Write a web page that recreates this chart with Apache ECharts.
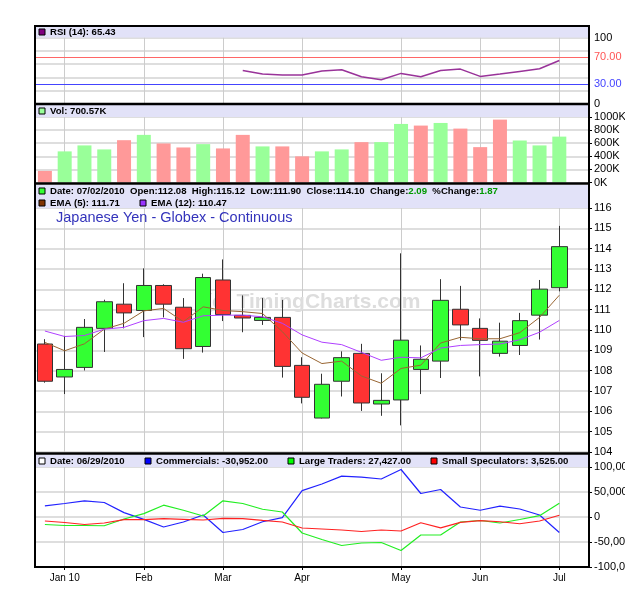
<!DOCTYPE html>
<html>
<head>
<meta charset="utf-8">
<script src="https://cdn.jsdelivr.net/npm/echarts@6/dist/echarts.min.js"></script>
<style>
html, body { margin: 0; padding: 0; background: #fff; }
#chart { width: 625px; height: 598px; }
</style>
</head>
<body>
<div id="chart"></div>
<script>
// weekly bars (friday dates)
let weeks = ['01/01/2010', '01/08/2010', '01/15/2010', '01/22/2010', '01/29/2010', '02/05/2010', '02/12/2010',
    '02/19/2010', '02/26/2010', '03/05/2010', '03/12/2010', '03/19/2010', '03/26/2010', '04/02/2010', '04/09/2010',
    '04/16/2010', '04/23/2010', '04/30/2010', '05/07/2010', '05/14/2010', '05/21/2010', '05/28/2010', '06/04/2010',
    '06/11/2010', '06/18/2010', '06/25/2010', '07/02/2010']
let tickIdx = [1, 5, 9, 13, 18, 22, 26]
let tickLabels = ['Jan 10', 'Feb', 'Mar', 'Apr', 'May', 'Jun', 'Jul']

let opens  = [109.31, 107.69, 108.16, 110.08, 111.27, 110.96, 112.19, 111.12, 109.19, 112.46, 110.72, 110.47, 110.62, 108.26,
    105.67, 107.48, 108.85, 106.36, 106.56, 108.06, 108.47, 111.02, 110.08, 108.85, 109.24, 110.73, 112.08]
let closes = [107.48, 108.06, 110.13, 111.39, 110.84, 112.19, 111.27, 109.08, 112.58, 110.76, 110.59, 110.62, 108.21, 106.69,
    107.33, 108.64, 106.41, 106.54, 109.50, 108.56, 111.46, 110.25, 109.49, 109.45, 110.46, 112.01, 114.10]
let lows   = [107.41, 106.85, 108.01, 108.92, 110.08, 109.65, 110.62, 108.58, 108.89, 110.44, 109.89, 110.25, 107.66, 106.39,
    105.65, 106.73, 106.02, 105.78, 105.31, 106.85, 107.64, 109.49, 107.72, 108.69, 108.77, 109.53, 111.90]
let highs  = [109.55, 109.71, 110.54, 111.49, 112.30, 113.03, 112.25, 111.57, 112.77, 113.47, 111.70, 111.57, 111.48, 108.66,
    107.85, 108.95, 109.32, 107.87, 113.77, 109.24, 112.50, 112.17, 110.57, 110.36, 110.84, 112.46, 115.12]
let ema5  = [109.39, 108.98, 109.32, 110.04, 110.33, 110.94, 111.06, 110.41, 111.14, 110.96, 110.90, 110.81, 109.92, 108.87,
    108.35, 108.47, 107.74, 107.38, 108.11, 108.27, 109.36, 109.64, 109.57, 109.57, 109.87, 110.62, 111.71]
let ema12 = [109.95, 109.68, 109.73, 110.04, 110.13, 110.46, 110.57, 110.38, 110.70, 110.73, 110.73, 110.65, 110.33, 109.76,
    109.40, 109.28, 108.90, 108.51, 108.66, 108.63, 109.11, 109.24, 109.28, 109.31, 109.52, 109.89, 110.47]
let rsi = [null, null, null, null, null, null, null, null, null, null, 50.5, 45, 43.5, 43.5, 49.5, 51.5, 41, 36.5, 46, 41,
    50.5, 52.5, 41.5, 45, 49, 53, 65.43]
let volK = [177, 475, 566, 505, 646, 727, 596, 535, 586, 520, 727, 551, 551, 399, 475, 505, 616, 616, 894, 869, 909, 823,
    540, 960, 641, 566, 700.57]

// COT positions (tuesday reports)
let cotDate = '06/29/2010'
let commercials = [22300, 27000, 32400, 29000, 8800, -4700, -20000, -10000, 4000, -31000, -25000, -9500, -1400, 52700,
    66000, 81800, 79700, 76000, 95000, 47000, 55000, 20000, 13500, 21600, 16000, 4000, -30952]
let largeTraders = [-15000, -17000, -17000, -17500, -4000, 6800, 23600, 13500, 2000, 32400, 27000, 15500, 10000, -32000,
    -45000, -57000, -52000, -51000, -67000, -36000, -36000, -10000, -7000, -12000, -5000, 2700, 27427]
let smallSpecs = [-8000, -11000, -15000, -12000, -5400, -5400, -3400, -4700, -6000, -2700, -3400, -6800, -10000, -22000,
    -24000, -26000, -29000, -26000, -28000, -11500, -21600, -10800, -7400, -9500, -13500, -8000, 3525]

let FONT = '"Liberation Sans", Arial, sans-serif'
let L = 35, R = 589

function xy(arr) {
    let out = []
    arr.forEach((v, i) => { if (v != null) out.push([i, v]) })
    return out
}
function fmt(n) {
    return n.toLocaleString('en-US', {minimumFractionDigits: 2, maximumFractionDigits: 2})
}
// small coloured square + label inside a header band
function legendItem(x, y, color, text, rich) {
    return [
        {type: 'rect', z: 20, shape: {x: x, y: y - 3, width: 6, height: 6}, style: {fill: color, stroke: '#000', lineWidth: 1}},
        {type: 'text', z: 20, x: x + 11, y: y, style: {text: text, font: 'bold 9.6px ' + FONT, fill: '#000', verticalAlign: 'middle', rich: rich || {}}}
    ]
}
function band(y, h) {
    return {type: 'rect', z: 5, shape: {x: L, y: y, width: R - L, height: h}, style: {fill: '#e2e2f8'}}
}

let myChart = echarts.init(document.getElementById('chart'), null, {renderer: 'canvas'})

let last = closes.length - 1
let chg = closes[last] - closes[last - 1]
let pct = chg / closes[last - 1] * 100
let green = {fill: '#009900', font: 'bold 9.6px ' + FONT}

let graphics = [
    band(27, 10.5), band(105, 12), band(185, 23), band(454.5, 12.5),
    {type: 'text', z: 1, x: 205, y: 302, style: {text: '(c) TimingCharts.com', font: 'bold 21px ' + FONT, fill: '#dddddd', verticalAlign: 'middle'}},
    {type: 'text', z: 20, x: 56, y: 218, style: {text: 'Japanese Yen - Globex - Continuous', font: '14.5px ' + FONT, fill: '#3333bb', verticalAlign: 'middle'}}
]
graphics = graphics.concat(
    legendItem(39, 32, '#800080', 'RSI (14): ' + rsi[last].toFixed(2)),
    legendItem(39, 111, '#99ff99', 'Vol: ' + volK[last].toFixed(2) + 'K'),
    legendItem(39, 191, '#33ff33', 'Date: ' + weeks[last] + '  Open:' + opens[last].toFixed(2) + '  High:' + highs[last].toFixed(2) +
        '  Low:' + lows[last].toFixed(2) + '  Close:' + closes[last].toFixed(2) + '  Change:{g|' + chg.toFixed(2) + '}  %Change:{g|' + pct.toFixed(2) + '}', {g: green}),
    legendItem(39, 203, '#803300', 'EMA (5): ' + ema5[last].toFixed(2)),
    legendItem(140, 203, '#9933ff', 'EMA (12): ' + ema12[last].toFixed(2)),
    legendItem(39, 461, '#ffffff', 'Date: ' + cotDate),
    legendItem(145, 461, '#0000ff', 'Commercials: ' + fmt(commercials[last])),
    legendItem(288, 461, '#00ff00', 'Large Traders: ' + fmt(largeTraders[last])),
    legendItem(431, 461, '#ff0000', 'Small Speculators: ' + fmt(smallSpecs[last]))
)
// black frame and panel separators
graphics.push({type: 'rect', z: 30, shape: {x: L, y: 26, width: R - L, height: 541}, style: {fill: null, stroke: '#000', lineWidth: 2}})
;[104, 183.5, 453.5].forEach(y => {
    graphics.push({type: 'line', z: 30, shape: {x1: L, y1: y, x2: R, y2: y}, style: {stroke: '#000', lineWidth: 2.5}})
})

let hSplit = {show: true, lineStyle: {color: '#dedede', width: 2}}
let grids = [
    {left: L, right: 625 - R, top: 37.5, height: 66.5, outerBoundsMode: 'none'},
    {left: L, right: 625 - R, top: 117, height: 65.5, outerBoundsMode: 'none'},
    {left: L, right: 625 - R, top: 208, height: 244, outerBoundsMode: 'none'},
    {left: L, right: 625 - R, top: 467, height: 100, outerBoundsMode: 'none'}
]
let xAxes = grids.map((g, i) => ({
    type: 'value', gridIndex: i, min: -0.5, max: 27.5, position: 'bottom',
    axisLine: {show: false, onZero: false},
    axisTick: {show: i == 3, customValues: tickIdx, length: 3, lineStyle: {color: '#000'}},
    axisLabel: {
        show: i == 3, customValues: tickIdx, fontSize: 10, fontFamily: FONT, color: '#000', margin: 6,
        formatter: v => tickLabels[tickIdx.indexOf(Number(v))]
    },
    splitLine: {show: true, lineStyle: {color: '#cccccc', width: 1}}
}))
let yBase = {
    position: 'right',
    axisLine: {show: false, onZero: false},
    axisTick: {show: true, length: 3, lineStyle: {color: '#000'}},
    splitLine: hSplit
}
let labelBase = {fontSize: 11, fontFamily: FONT, color: '#000', margin: 5, align: 'left'}

let option = {
    animation: false,
    backgroundColor: '#fff',
    grid: grids,
    xAxis: xAxes,
    yAxis: [
        Object.assign({}, yBase, {
            gridIndex: 0, min: 0, max: 100, interval: 20, axisTick: {show: false},
            axisLabel: Object.assign({}, labelBase, {
                customValues: [0, 30, 70, 100],
                formatter: v => (v == 30 || v == 70) ? Number(v).toFixed(2) : v,
                color: v => v == 70 ? '#ff5555' : (v == 30 ? '#4444ff' : '#000')
            })
        }),
        Object.assign({}, yBase, {
            gridIndex: 1, min: 0, max: 1000, interval: 200,
            axisLabel: Object.assign({}, labelBase, {formatter: v => v + 'K'})
        }),
        Object.assign({}, yBase, {
            gridIndex: 2, min: 104, max: 116, interval: 1,
            axisLabel: Object.assign({}, labelBase)
        }),
        Object.assign({}, yBase, {
            gridIndex: 3, min: -100000, max: 100000, interval: 50000,
            axisLabel: Object.assign({}, labelBase, {formatter: v => Number(v).toLocaleString('en-US')})
        })
    ],
    graphic: {elements: graphics},
    series: [
        {
            name: 'RSI', type: 'line', xAxisIndex: 0, yAxisIndex: 0, data: xy(rsi),
            symbol: 'none', lineStyle: {color: '#993399', width: 1.5},
            markLine: {
                silent: true, symbol: 'none', label: {show: false},
                data: [
                    {yAxis: 70, lineStyle: {color: '#ff6666', width: 1, type: 'solid'}},
                    {yAxis: 30, lineStyle: {color: '#4444ff', width: 1, type: 'solid'}}
                ]
            }
        },
        {
            name: 'Vol', type: 'bar', xAxisIndex: 1, yAxisIndex: 1, barWidth: 14,
            data: volK.map((v, i) => ({
                value: [i, v],
                itemStyle: {color: (i > 0 && closes[i] >= closes[i - 1]) ? '#99ff99' : '#ff9999'}
            }))
        },
        {
            name: 'Price', type: 'candlestick', xAxisIndex: 2, yAxisIndex: 2, barWidth: 16, z: 3,
            data: opens.map((o, i) => [i, o, closes[i], lows[i], highs[i]]),
            itemStyle: {color: '#33ff33', color0: '#ff3333', borderColor: '#333', borderColor0: '#333', borderWidth: 1}
        },
        {
            name: 'EMA5', type: 'line', xAxisIndex: 2, yAxisIndex: 2, data: xy(ema5), z: 4,
            symbol: 'none', lineStyle: {color: '#996633', width: 1}
        },
        {
            name: 'EMA12', type: 'line', xAxisIndex: 2, yAxisIndex: 2, data: xy(ema12), z: 4,
            symbol: 'none', lineStyle: {color: '#b040ff', width: 1}
        },
        {
            name: 'Commercials', type: 'line', xAxisIndex: 3, yAxisIndex: 3, data: xy(commercials),
            symbol: 'none', lineStyle: {color: '#2222ff', width: 1.2}
        },
        {
            name: 'Large Traders', type: 'line', xAxisIndex: 3, yAxisIndex: 3, data: xy(largeTraders),
            symbol: 'none', lineStyle: {color: '#22ee22', width: 1.2}
        },
        {
            name: 'Small Speculators', type: 'line', xAxisIndex: 3, yAxisIndex: 3, data: xy(smallSpecs),
            symbol: 'none', lineStyle: {color: '#ff2222', width: 1.2}
        }
    ]
}
myChart.setOption(option)
</script>
</body>
</html>
